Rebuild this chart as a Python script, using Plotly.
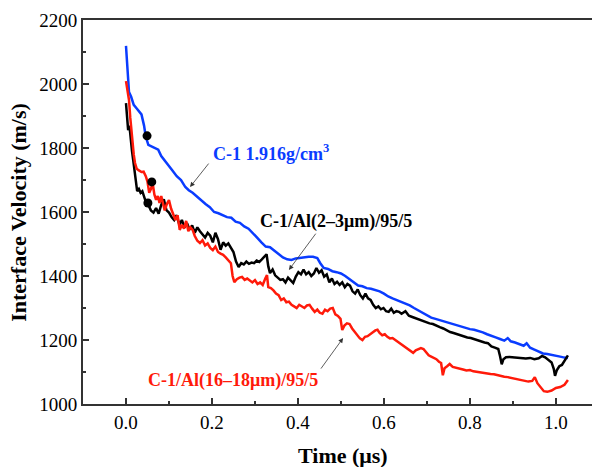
import plotly.graph_objects as go

# Data
blue_t = [0.000, 0.003, 0.007, 0.012, 0.018, 0.024, 0.030, 0.036, 0.042, 0.046,
          0.052, 0.060, 0.068, 0.075, 0.082, 0.090, 0.098, 0.108, 0.118, 0.128,
          0.138, 0.146, 0.155, 0.165, 0.175, 0.185, 0.195, 0.205, 0.215, 0.225,
          0.235, 0.245, 0.255, 0.265, 0.275, 0.285, 0.295, 0.305, 0.315, 0.325,
          0.335, 0.345, 0.355, 0.365, 0.375, 0.385, 0.395, 0.405, 0.415, 0.425,
          0.435, 0.445, 0.452, 0.460, 0.470, 0.480, 0.490, 0.500, 0.510, 0.520,
          0.530, 0.540, 0.550, 0.560, 0.570, 0.580, 0.590, 0.600, 0.610, 0.620,
          0.630, 0.640, 0.650, 0.660, 0.670, 0.680, 0.690, 0.700, 0.710, 0.720,
          0.730, 0.740, 0.750, 0.760, 0.770, 0.780, 0.790, 0.800, 0.810, 0.820,
          0.830, 0.840, 0.850, 0.860, 0.870, 0.880, 0.888, 0.895, 0.905, 0.915,
          0.925, 0.932, 0.940, 0.950, 0.960, 0.970, 0.980, 0.990, 1.000, 1.010,
          1.020, 1.028]
blue_v = [2119, 2040, 1975, 1960, 1935, 1925, 1915, 1905, 1870, 1835,
          1810, 1805, 1800, 1795, 1775, 1760, 1748, 1730, 1712, 1700,
          1678, 1668, 1660, 1648, 1635, 1625, 1615, 1600, 1596, 1590,
          1584, 1582, 1570, 1566, 1555, 1548, 1535, 1520, 1505, 1492,
          1490, 1480, 1470, 1458, 1452, 1450, 1455, 1457, 1458, 1460,
          1460, 1456, 1440, 1425, 1422, 1415, 1412, 1408, 1400, 1390,
          1378, 1370, 1368, 1362, 1360, 1356, 1352, 1345, 1336, 1330,
          1325, 1320, 1315, 1308, 1300, 1292, 1284, 1278, 1270, 1266,
          1262, 1258, 1253, 1250, 1247, 1242, 1238, 1234, 1232, 1229,
          1224, 1218, 1212, 1208, 1203, 1198, 1206, 1196, 1192, 1188,
          1182, 1190, 1176, 1170, 1164, 1158, 1156, 1154, 1150, 1148,
          1145, 1144]

black_t = [0.000, 0.003, 0.005, 0.008, 0.011, 0.014, 0.017, 0.020, 0.023, 0.026,
           0.030, 0.034, 0.038, 0.042, 0.047, 0.052, 0.058, 0.064, 0.070, 0.076,
           0.082, 0.088, 0.094, 0.100, 0.106, 0.112, 0.118, 0.124, 0.130, 0.136,
           0.142, 0.148, 0.154, 0.160, 0.166, 0.172, 0.178, 0.184, 0.190, 0.196,
           0.202, 0.208, 0.214, 0.220, 0.226, 0.232, 0.238, 0.244, 0.250, 0.256,
           0.262, 0.268, 0.274, 0.280, 0.286, 0.292, 0.298, 0.304, 0.310, 0.316,
           0.322, 0.327, 0.331, 0.335, 0.341, 0.347, 0.353, 0.359, 0.365, 0.371,
           0.377, 0.383, 0.389, 0.395, 0.401, 0.407, 0.413, 0.419, 0.425, 0.431,
           0.437, 0.443, 0.449, 0.455, 0.461, 0.467, 0.473, 0.479, 0.485, 0.491,
           0.497, 0.503, 0.509, 0.515, 0.521, 0.527, 0.533, 0.539, 0.545, 0.551,
           0.557, 0.563, 0.569, 0.575, 0.581, 0.587, 0.593, 0.599, 0.605, 0.611,
           0.617, 0.623, 0.629, 0.635, 0.641, 0.650, 0.658, 0.666, 0.674, 0.682,
           0.690, 0.698, 0.706, 0.714, 0.722, 0.730, 0.738, 0.746, 0.754, 0.762,
           0.770, 0.778, 0.786, 0.794, 0.802, 0.810, 0.818, 0.826, 0.834, 0.842,
           0.850, 0.858, 0.866, 0.870, 0.874, 0.878, 0.884, 0.892, 0.900, 0.910,
           0.920, 0.930, 0.940, 0.950, 0.960, 0.968, 0.975, 0.982, 0.990, 0.995,
           0.998, 1.002, 1.008, 1.014, 1.020, 1.028]
black_v = [1940, 1900, 1856, 1870, 1820, 1790, 1760, 1725, 1690, 1665,
           1672, 1660, 1665, 1648, 1628, 1622, 1605, 1598, 1612, 1595,
           1622, 1640, 1606, 1598, 1584, 1575, 1590, 1560, 1575, 1552,
           1565, 1545, 1558, 1535, 1552, 1540, 1528, 1520, 1535, 1526,
           1505, 1535, 1515, 1482, 1505, 1495, 1502, 1490, 1475, 1445,
           1428, 1440, 1436, 1445, 1438, 1442, 1440, 1448, 1444, 1452,
           1462, 1468, 1430, 1409, 1420, 1402, 1395, 1388, 1390, 1380,
           1395, 1388, 1378, 1398, 1412, 1405, 1420, 1405, 1412, 1400,
           1408, 1425, 1410, 1418, 1398, 1405, 1380, 1392, 1375, 1382,
           1372, 1380, 1365, 1375, 1370, 1352, 1345, 1358, 1340, 1330,
           1345, 1330, 1325, 1310, 1300, 1305, 1296, 1300, 1290, 1288,
           1298, 1285, 1290, 1288, 1282, 1290, 1276, 1272, 1268, 1262,
           1258, 1256, 1252, 1250, 1244, 1240, 1236, 1230, 1225, 1222,
           1218, 1214, 1210, 1208, 1206, 1202, 1200, 1196, 1192, 1190,
           1180, 1176, 1172, 1150, 1124, 1140, 1146, 1147, 1146, 1144,
           1145, 1142, 1144, 1140, 1143, 1150, 1146, 1138, 1130, 1110,
           1088, 1105, 1118, 1122, 1135, 1152]

red_t = [0.000, 0.003, 0.007, 0.010, 0.014, 0.018, 0.021, 0.025, 0.030, 0.036,
         0.041, 0.046, 0.050, 0.054, 0.058, 0.062, 0.066, 0.070, 0.074, 0.078,
         0.082, 0.086, 0.090, 0.095, 0.100, 0.105, 0.110, 0.115, 0.120, 0.125,
         0.130, 0.135, 0.140, 0.145, 0.150, 0.155, 0.160, 0.166, 0.172, 0.178,
         0.184, 0.190, 0.196, 0.202, 0.208, 0.214, 0.220, 0.226, 0.232, 0.238,
         0.244, 0.248, 0.252, 0.258, 0.264, 0.270, 0.276, 0.282, 0.288, 0.294,
         0.300, 0.306, 0.312, 0.318, 0.324, 0.328, 0.331, 0.337, 0.343, 0.349,
         0.355, 0.361, 0.367, 0.373, 0.379, 0.385, 0.391, 0.397, 0.403, 0.409,
         0.415, 0.421, 0.427, 0.433, 0.439, 0.445, 0.451, 0.457, 0.463, 0.469,
         0.475, 0.481, 0.487, 0.493, 0.499, 0.503, 0.508, 0.514, 0.520, 0.526,
         0.532, 0.538, 0.544, 0.550, 0.556, 0.562, 0.568, 0.574, 0.580, 0.585,
         0.590, 0.596, 0.602, 0.608, 0.614, 0.620, 0.626, 0.632, 0.638, 0.644,
         0.650, 0.656, 0.662, 0.668, 0.674, 0.680, 0.686, 0.692, 0.698, 0.704,
         0.710, 0.716, 0.722, 0.728, 0.733, 0.737, 0.741, 0.747, 0.753, 0.760,
         0.768, 0.776, 0.784, 0.792, 0.800, 0.808, 0.816, 0.824, 0.832, 0.840,
         0.848, 0.856, 0.864, 0.872, 0.880, 0.888, 0.896, 0.904, 0.912, 0.920,
         0.928, 0.936, 0.945, 0.951, 0.957, 0.965, 0.972, 0.980, 0.990, 1.000,
         1.010, 1.020, 1.028]
red_v = [2009, 1985, 1950, 1894, 1825, 1780, 1753, 1735, 1730, 1725,
         1726, 1712, 1695, 1660, 1672, 1690, 1655, 1638, 1650, 1628,
         1650, 1622, 1605, 1625, 1637, 1610, 1592, 1575, 1590, 1544,
         1560, 1548, 1572, 1540, 1552, 1544, 1525, 1510, 1503, 1512,
         1495, 1502, 1488, 1481, 1492, 1475, 1470, 1466, 1458, 1448,
         1440, 1400, 1381, 1390, 1395, 1397, 1388, 1392, 1385, 1380,
         1387, 1375, 1380, 1372, 1392, 1403, 1365, 1362, 1355, 1345,
         1340, 1325, 1330, 1318, 1320, 1310, 1305, 1300, 1310, 1305,
         1300, 1308, 1310, 1298, 1288, 1295, 1285, 1282, 1295, 1290,
         1298, 1300, 1280, 1275, 1266, 1231, 1245, 1252, 1250, 1236,
         1225, 1215, 1205, 1200, 1210, 1212, 1218, 1222, 1230, 1232,
         1222, 1215, 1218, 1210, 1205, 1206, 1200, 1195, 1190, 1182,
         1176, 1170, 1165, 1160, 1168, 1172, 1175, 1172, 1160, 1152,
         1148, 1145, 1140, 1132, 1128, 1090, 1112, 1118, 1125, 1116,
         1114, 1110, 1108, 1105, 1106, 1102, 1100, 1098, 1097, 1096,
         1094, 1093, 1090, 1088, 1085, 1084, 1082, 1078, 1076, 1075,
         1072, 1070, 1072, 1084, 1065, 1050, 1040, 1038, 1042, 1050,
         1053, 1060, 1075]

dot_t = [0.049, 0.060, 0.051]
dot_v = [1838, 1694, 1628]

FONT = "Liberation Serif"
BLUE = "#0a3cff"
RED = "#ff1a0a"

fig = go.Figure()
fig.add_trace(go.Scatter(x=blue_t, y=blue_v, mode="lines", line=dict(color=BLUE, width=2.5)))
fig.add_trace(go.Scatter(x=black_t, y=black_v, mode="lines", line=dict(color="black", width=2.5)))
fig.add_trace(go.Scatter(x=red_t, y=red_v, mode="lines", line=dict(color=RED, width=2.5)))
fig.add_trace(go.Scatter(x=dot_t, y=dot_v, mode="markers", marker=dict(color="black", size=9)))

# text labels
labels = [
    ("<b>C-1 1.916g/cm<sup>3</sup></b>", 0.198, 1787, BLUE),
    ("<b>C-1/Al(2\u20133\u03bcm)/95/5</b>", 0.307, 1569, "black"),
    ("<b>C-1/Al(16\u201318\u03bcm)/95/5</b>", 0.046, 1075, RED),
]
for txt, x, y, c in labels:
    fig.add_annotation(x=x, y=y, text=txt, showarrow=False, xanchor="left", yanchor="middle",
                       font=dict(family=FONT, size=18, color=c))

# arrows: (tail_t, tail_v, tip_t, tip_v)
arrows = [
    (0.195, 1756, 0.149, 1678),
    (0.444, 1537, 0.379, 1419),
    (0.451, 1106, 0.505, 1206),
]
for tx, ty, hx, hy in arrows:
    fig.add_annotation(x=hx, y=hy, ax=tx, ay=ty, axref="x", ayref="y", text="",
                       showarrow=True, arrowhead=2, arrowsize=1.2, arrowwidth=0.8, arrowcolor="#333")

# axis titles placed in paper coordinates
fig.add_annotation(x=0.51, y=-0.133, xref="paper", yref="paper", yanchor="middle", showarrow=False,
                   text="<b>Time (\u03bcs)</b>", font=dict(family=FONT, size=22, color="black"))
fig.add_annotation(x=-0.128, y=0.5, xref="paper", yref="paper", xanchor="center", showarrow=False,
                   textangle=-90, text="<b>Interface Velocity (m/s)</b>",
                   font=dict(family=FONT, size=22, color="black"))

fig.update_layout(
    width=592, height=467,
    margin=dict(l=83, r=0, t=20, b=63),
    paper_bgcolor="white", plot_bgcolor="white",
    showlegend=False,
    font=dict(family=FONT, size=19, color="black"),
)
fig.update_xaxes(
    range=[-0.1, 1.084], tickvals=[0, 0.2, 0.4, 0.6, 0.8, 1.0], ticktext=["0.0", "0.2", "0.4", "0.6", "0.8", "1.0"],
    ticks="inside", ticklen=6, tickwidth=1.5, tickcolor="#333",
    minor=dict(dtick=0.1, tick0=0, ticks="inside", ticklen=3, tickwidth=1.5, tickcolor="#333"),
    showline=True, linecolor="#333", linewidth=2, mirror=True,
    showgrid=False, zeroline=False, automargin=False,
)
fig.update_yaxes(
    range=[1000, 2200], dtick=200,
    ticks="inside", ticklen=6, tickwidth=1.5, tickcolor="#333",
    minor=dict(dtick=100, ticks="inside", ticklen=3, tickwidth=1.5, tickcolor="#333"),
    showline=True, linecolor="#333", linewidth=2, mirror=False,
    showgrid=False, zeroline=False, automargin=False,
)

fig.write_html("out.html", config={"displayModeBar": False},
               post_script="document.body.style.margin='0';")
